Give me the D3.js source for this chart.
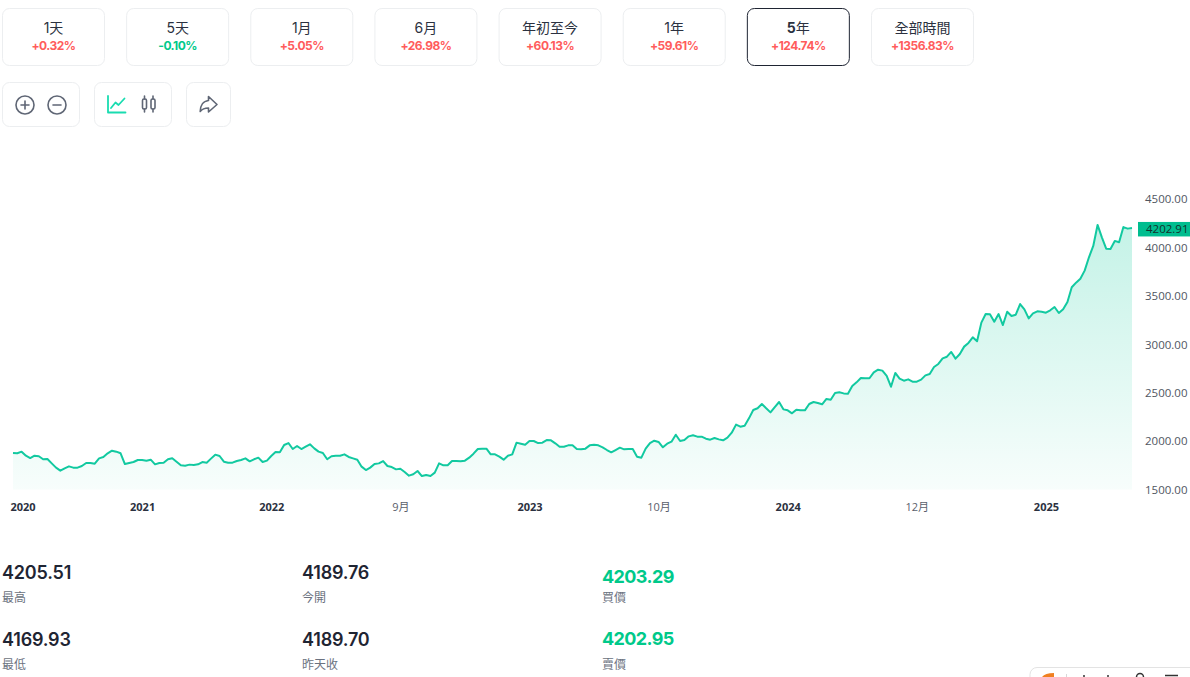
<!DOCTYPE html>
<html lang="zh-Hant"><head><meta charset="utf-8">
<script src="https://cdn.jsdelivr.net/npm/d3@7"></script>
<style>
html,body{margin:0;padding:0;background:#fff;overflow:hidden}
svg{display:block}
text{font-family:Inter,"Noto Sans CJK TC",sans-serif}
.axis text{font-family:"Open Sans","Noto Sans CJK TC",sans-serif}
.axis .domain,.axis line{display:none}
</style></head><body>
<svg id="c" width="1190" height="677" viewBox="0 0 1190 677"></svg>
<script>
const prices = [
1878,1875,1892,1850,1826,1850,1844,1813,1816,1771,1727,1696,1720,1740,1727,1727,1744,1775,1775,1768,
1823,1837,1875,1902,1892,1875,1764,1775,1785,1806,1806,1799,1809,1761,1775,1778,1813,1823,1788,1751,
1747,1758,1754,1761,1785,1778,1820,1861,1847,1788,1778,1778,1795,1806,1823,1792,1813,1830,1785,1799,
1847,1888,1885,1961,1981,1919,1950,1919,1943,1968,1926,1892,1878,1813,1844,1850,1850,1864,1837,1823,
1809,1737,1702,1727,1764,1771,1795,1744,1733,1709,
1716,1682,1644,1658,1692,1640,1651,1640,1675,1771,1751,1751,1795,1795,1792,1799,1830,1871,1919,1923,
1923,1864,1864,1840,1809,1850,1864,1985,1974,1964,2002,2002,1981,1985,2012,2009,1978,1943,1943,1957,
1957,1919,1916,1923,1957,1964,1957,1937,1909,1885,1909,1933,1916,1919,1919,1840,1830,1923,1981,2005,
1992,1937,1974,1995,2067,2002,2012,2050,2061,2047,2047,2026,2016,2033,2019,2009,2036,2088,
2171,2150,2160,2236,2322,2340,2384,2340,2298,2353,2405,2329,2319,2288,2326,2319,2319,2384,2405,2395,
2381,2436,2429,2498,2505,2494,2491,2570,2608,2653,2650,2650,2711,2739,2729,2674,2563,2705,2646,2625,
2639,2615,2615,2636,2680,2694,2767,2798,2856,2873,2922,2853,2901,2977,3015,3073,3032,3225,3314,3311,
3235,3314,
3200,3338,3293,3307,3417,3362,3269,3321,3342,3338,3328,3352,3386,3324,3362,3438,3590,3638,3679,3762,
3900,4017,4234,4106,3989,3986,4069,4055,4212,4196,4202.91];
const priceTicks = [1500,2000,2500,3000,3500,4000,4500];
const xTickIndex = [0,30,60,90,120,150,180,210,240];
const xTickLabels = ["2020","2021","2022","9月","2023","10月","2024","12月","2025"];
const rangeLabels = ["1天","5天","1月","6月","年初至今","1年","5年","全部時間"];
const rangeChanges = ["+0.32%","-0.10%","+5.05%","+26.98%","+60.13%","+59.61%","+124.74%","+1356.83%"];
const statValues = ["4205.51","4169.93","4189.76","4189.70","4203.29","4202.95"];
const statLabels = ["最高","最低","今開","昨天收","買價","賣價"];
const lastPrice = "4202.91";

const RED="#ff5c5c", GREEN="#00c98a", INK="#1f2533", GREY="#6b7280", BORDER="#eceef0", LINE="#12c9a0";
const svg = d3.select("#c");

// range cards
const cardX = d3.scaleLinear().domain([0,7]).range([2.5,871.5]);
rangeLabels.forEach((lab,i)=>{
  const g = svg.append("g").attr("transform",`translate(${cardX(i)},8.5)`);
  const active = i===6;
  g.append("rect").attr("width",102).attr("height",57).attr("rx",7).attr("fill","#fff")
    .attr("stroke",active?INK:BORDER).attr("stroke-width",1);
  const t = g.append("text").attr("x",51).attr("y",24.5).attr("text-anchor","middle")
    .attr("font-size",14).attr("fill","#2b3140");
  const m = lab.match(/^(\d)(.*)$/);
  if(m && active){
    t.append("tspan").attr("font-weight",700).text(m[1]);
    t.append("tspan").text(m[2]);
  } else t.text(lab);
  g.append("text").attr("x",51).attr("y",41.5).attr("text-anchor","middle")
    .attr("font-size",12).attr("font-weight",700).attr("letter-spacing",-0.5)
    .attr("fill",rangeChanges[i][0]==="-"?GREEN:RED).text(rangeChanges[i]);
});

// toolbar
[[2.5,77],[94.5,77],[186.5,44]].forEach(([x,w])=>{
  svg.append("rect").attr("x",x).attr("y",82.5).attr("width",w).attr("height",44).attr("rx",7)
    .attr("fill","#fff").attr("stroke",BORDER);
});
const ic = svg.append("g").attr("fill","none").attr("stroke","#5f6675").attr("stroke-width",1.6).attr("stroke-linecap","round").attr("stroke-linejoin","round");
ic.append("circle").attr("cx",25).attr("cy",105).attr("r",9);
ic.append("path").attr("d","M21 105h8M25 101v8");
ic.append("circle").attr("cx",57).attr("cy",105).attr("r",9);
ic.append("path").attr("d","M53 105h8");
ic.append("path").attr("stroke","#19dcb0").attr("stroke-width",1.8).attr("d","M108 96v16.5h17.5M111 108l4.500-5.500 3 2.500 6-6.500");
ic.append("path").attr("d","M144.500 96v3M144.500 109v3M153 96v3M153 109v3");
ic.append("rect").attr("x",142.500).attr("y",99).attr("width",4).attr("height",10).attr("rx",1.5);
ic.append("rect").attr("x",151).attr("y",99).attr("width",4).attr("height",10).attr("rx",1.5);
ic.append("path").attr("d","M208.500 96.500l8.500 8-8.500 7.500v-4c-3.500 0-6 .5-8.300 3.500 0-6 3-10.500 8.300-11z");

// chart
const x = d3.scaleLinear().domain([0,prices.length-1]).range([13,1132]);
const y = d3.scaleLinear().domain([1500,4500]).range([489.6,199.2]);
const defs = svg.append("defs");
const grad = defs.append("linearGradient").attr("id","fillG").attr("gradientUnits","userSpaceOnUse")
  .attr("x1",0).attr("x2",0).attr("y1",y(4234)).attr("y2",y(1500));
grad.append("stop").attr("offset",0).attr("stop-color","#00c896").attr("stop-opacity",.23);
grad.append("stop").attr("offset",1).attr("stop-color","#00c896").attr("stop-opacity",.03);
svg.append("path").datum(prices).attr("fill","url(#fillG)")
  .attr("d",d3.area().x((d,i)=>x(i)).y0(y(1500)).y1(d=>y(d)));
svg.append("path").datum(prices).attr("fill","none").attr("stroke",LINE).attr("stroke-width",2)
  .attr("stroke-linejoin","round")
  .attr("d",d3.line().x((d,i)=>x(i)).y(d=>y(d)));

// y axis
const ya = svg.append("g").attr("class","axis").attr("transform","translate(1145,0)")
  .call(d3.axisRight(y).tickValues(priceTicks).tickSize(0).tickPadding(0).tickFormat(d3.format(".2f")));
ya.selectAll("text").attr("font-size",11.5).attr("fill","#50565f");
const lastY = y(prices[prices.length-1]);
svg.append("rect").attr("x",1138).attr("y",lastY-6).attr("width",52).attr("height",14.500).attr("fill","#00bd8f");
svg.append("text").attr("x",1146).attr("y",lastY+5.2).attr("font-size",11.5).attr("fill","#14302c")
  .style("font-family",'"Open Sans",sans-serif').text(lastPrice);

// x axis
const xa = svg.append("g").attr("class","axis").attr("transform","translate(0,507)")
  .call(d3.axisBottom(x).tickValues(xTickIndex).tickSize(0).tickPadding(0)
    .tickFormat(d=>xTickLabels[xTickIndex.indexOf(d)]));
xa.selectAll("text").attr("dy",0).attr("y",4)
  .attr("font-size",11).attr("text-anchor",(d,i)=>i===0?"start":"middle")
  .attr("dx",(d,i)=>i===0?-3:0)
  .attr("font-weight",(d,i)=>/^\d{4}$/.test(xTickLabels[i])?700:400)
  .attr("fill",(d,i)=>/^\d{4}$/.test(xTickLabels[i])?"#2b3140":"#5a606b");

// stats
const statCol = [2,2,302,302,602,602];
const statValY = [579,646,579,646,583,645];
const statLabY = [602,669,602,669,602,669];
statValues.forEach((v,i)=>{
  const green = i>=4;
  svg.append("text").attr("x",statCol[i]).attr("y",statValY[i]).attr("font-size",18)
    .attr("letter-spacing",green?-0.6:-0.2)
    .attr("font-weight",green?700:600).attr("fill",green?GREEN:INK).text(v);
  svg.append("text").attr("x",statCol[i]).attr("y",statLabY[i]).attr("font-size",12)
    .attr("fill",GREY).text(statLabels[i]);
});

// corner widget, cut by the window edge
svg.append("rect").attr("x",1030).attr("y",667.5).attr("width",200).attr("height",40).attr("rx",7)
  .attr("fill","#fff").attr("stroke","#e3e3e3");
svg.append("path").attr("fill","#f08020").attr("d","M1042 677q3-4 12-4v4z");
svg.append("path").attr("stroke","#d8d8d8").attr("d","M1066.500 674v3");
svg.append("path").attr("stroke","#333").attr("stroke-width",1.5).attr("d","M1084 675v2M1108 675v2");
svg.append("circle").attr("cx",1140).attr("cy",677).attr("r",3.5).attr("fill","none").attr("stroke","#333").attr("stroke-width",1.5);
svg.append("path").attr("stroke","#333").attr("stroke-width",1.5).attr("d","M1165 675.500h13");
</script>
</body></html>
